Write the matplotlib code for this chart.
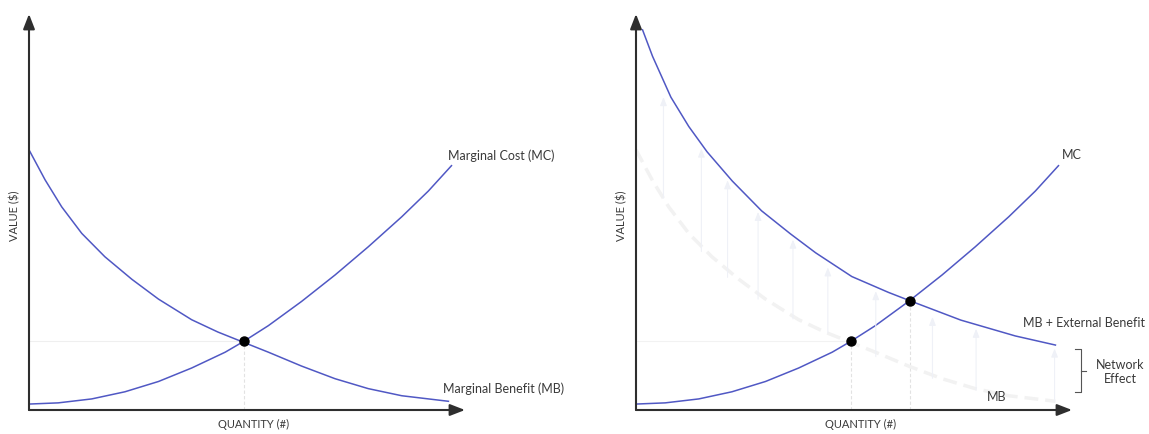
import numpy as np
import matplotlib.pyplot as plt

plt.rcParams['font.family'] = ['Lato', 'DejaVu Sans']

# Curves (quantity, value), same units in both panels
mb_q = [0, 0.37, 0.75, 1.21, 1.74, 2.36, 2.97, 3.73, 4.33, 4.92, 5.49, 6.25, 7.02, 7.78, 8.55, 9.62]
mb_v = [6.57, 5.81, 5.13, 4.46, 3.87, 3.30, 2.80, 2.28, 1.97, 1.71, 1.46, 1.11, 0.79, 0.54, 0.36, 0.22]

mc_q = [0, 0.67, 1.44, 2.20, 2.97, 3.73, 4.50, 4.92, 5.49, 6.25, 7.02, 7.78, 8.55, 9.16, 9.69]
mc_v = [0.15, 0.18, 0.28, 0.46, 0.72, 1.06, 1.46, 1.73, 2.13, 2.74, 3.41, 4.12, 4.88, 5.53, 6.17]

mbx_q = [0.15, 0.38, 0.80, 1.21, 1.63, 2.21, 2.88, 3.54, 4.12, 4.95, 5.79, 6.28, 7.45, 8.70, 9.62]
mbx_v = [9.60, 8.93, 7.90, 7.16, 6.52, 5.78, 5.03, 4.45, 3.97, 3.37, 2.97, 2.76, 2.27, 1.87, 1.64]

# equilibrium points
eq_q = [4.92]
eq_v = [1.73]
eq2_q = [4.92, 6.28]
eq2_v = [1.73, 2.76]

# faint shift arrows (quantity, from MB, to MB + external benefit)
arr_q = [0.63, 1.5, 2.1, 2.8, 3.6, 4.4, 5.5, 6.8, 7.8, 9.6]
arr_lo = [5.35, 4.0, 3.35, 2.8, 2.3, 1.95, 1.35, 0.8, 0.5, 0.23]
arr_hi = [7.9, 6.6, 5.8, 5.0, 4.3, 3.6, 3.0, 2.35, 2.05, 1.55]

W, H = 1149, 434
fig = plt.figure(figsize=(W / 100, H / 100), dpi=100)

px_x, px_y = 43.6, 39.6  # pixels per unit


def make_ax(x0, x1, ox, oy=410):
    ax = fig.add_axes([x0 / W, 0, (x1 - x0) / W, 1])
    ax.set_xlim((x0 - ox) / px_x, (x1 - ox) / px_x)
    ax.set_ylim((oy - H) / px_y, oy / px_y)
    ax.axis('off')
    return ax


blue = '#5058c4'
axc = '#2e2e2e'
txt = '#3a3a3a'
faint = '#e2e2e2'


def draw_axes(ax):
    ax.annotate('', xy=(0, 10.0), xytext=(0, 0),
                arrowprops=dict(arrowstyle='-|>,head_length=0.9,head_width=0.35',
                                color=axc, lw=1.5, shrinkA=0, shrinkB=0))
    ax.annotate('', xy=(10.0, 0), xytext=(0, 0),
                arrowprops=dict(arrowstyle='-|>,head_length=0.9,head_width=0.35',
                                color=axc, lw=1.5, shrinkA=0, shrinkB=0))
    ax.text(-0.32, 4.9, 'VALUE ($)', rotation=90, ha='center', va='center',
            fontsize=8, color=txt)
    ax.text(5.14, -0.36, 'QUANTITY (#)', ha='center', va='center',
            fontsize=8, color=txt)


# ---- left panel ----
ax1 = make_ax(0, 575, 29)
ax1.plot([0, eq_q[0]], [eq_v[0], eq_v[0]], color='#efefef', lw=0.8)
ax1.plot([eq_q[0], eq_q[0]], [0, eq_v[0]], color=faint, lw=0.8, ls=(0, (3, 2)))
ax1.plot(mb_q, mb_v, color=blue, lw=1.1)
ax1.plot(mc_q, mc_v, color=blue, lw=1.1)
ax1.plot(eq_q, eq_v, 'o', color='black', ms=6.5)
draw_axes(ax1)
ax1.text(9.61, 6.41, 'Marginal Cost (MC)', ha='left', va='center', fontsize=9, color=txt)
ax1.text(9.50, 0.53, 'Marginal Benefit (MB)', ha='left', va='center', fontsize=9, color=txt)

# ---- right panel ----
ax2 = make_ax(575, W, 636)
for q, v in zip(eq2_q, eq2_v):
    ax2.plot([q, q], [0, v], color=faint, lw=0.8, ls=(0, (3, 2)))
ax2.plot([0, eq2_q[0]], [eq2_v[0], eq2_v[0]], color='#f2f2f2', lw=0.8)
ax2.plot(mb_q, mb_v, color='#f2f2f2', lw=2.5, ls=(0, (4, 2)))
for q, lo, hi in zip(arr_q, arr_lo, arr_hi):
    ax2.annotate('', xy=(q, hi), xytext=(q, lo),
                 arrowprops=dict(arrowstyle='-|>,head_length=0.5,head_width=0.2',
                                 color='#eff1f7', lw=0.8, shrinkA=0, shrinkB=0))
ax2.plot(mbx_q, mbx_v, color=blue, lw=1.1)
ax2.plot(mc_q, mc_v, color=blue, lw=1.1)
ax2.plot(eq2_q, eq2_v, 'o', color='black', ms=6.5, zorder=5)
draw_axes(ax2)
ax2.text(10.0, 6.44, 'MC', ha='center', va='center', fontsize=9, color=txt)
ax2.text(8.88, 2.20, 'MB + External Benefit', ha='left', va='center', fontsize=9, color=txt)
ax2.text(8.28, 0.33, 'MB', ha='center', va='center', fontsize=9, color=txt)
ax2.text(11.11, 0.96, 'Network\nEffect', ha='center', va='center', fontsize=9,
         color=txt, linespacing=1.25)
# bracket
ax2.plot([10.07, 10.2, 10.2, 10.07], [1.54, 1.54, 0.45, 0.45], color='#555555', lw=0.8)
ax2.plot([10.2, 10.33], [0.995, 0.995], color='#555555', lw=0.8)

fig.savefig('out.png', dpi=100, facecolor='white')
